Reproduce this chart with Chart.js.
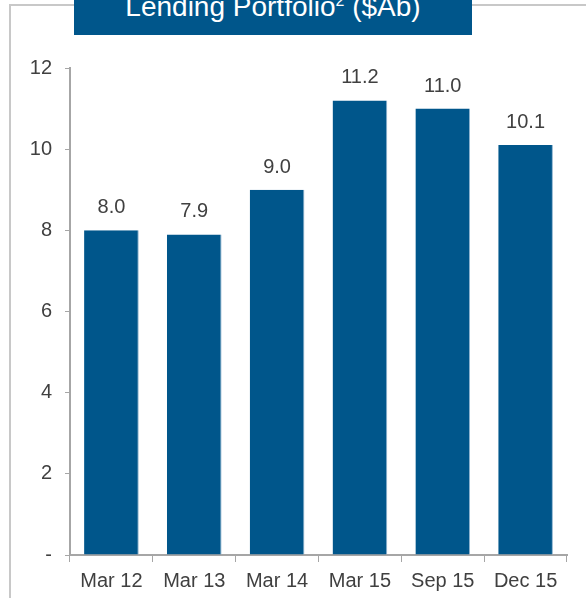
<!DOCTYPE html>
<html>
<head>
<meta charset="utf-8">
<script src="https://cdn.jsdelivr.net/npm/chart.js@4"></script>
<style>
  html, body { margin: 0; padding: 0; background: #fff; }
  #wrap { position: relative; width: 586px; height: 598px; overflow: hidden; }
  #frame { position: absolute; left: 9px; top: 4px; width: 600px; height: 620px;
           border-left: 2px solid #c8c8c8; border-top: 2px solid #c8c8c8; }
  #title { position: absolute; left: 74px; top: 0; width: 398px; height: 35px;
           background: #00568b; color: #fff; overflow: hidden;
           font-family: "Liberation Sans", Arial, sans-serif; font-size: 28px;
           text-align: center; line-height: 28px; }
  #title span.t { position: relative; top: -7px; }
  #title sup { font-size: 16px; vertical-align: 10px; line-height: 0; }
  canvas { position: absolute; left: 0; top: 0; }
</style>
</head>
<body>
<div id="wrap">
  <div id="frame"></div>
  <canvas id="chart" width="586" height="598"></canvas>
  <div id="title"><span class="t">Lending Portfolio<sup>2</sup> ($Ab)</span></div>
</div>
<script>
const categories = ['Mar 12', 'Mar 13', 'Mar 14', 'Mar 15', 'Sep 15', 'Dec 15'];
const portfolio = [8.0, 7.9, 9.0, 11.2, 11.0, 10.1];
const yTicks = [0, 2, 4, 6, 8, 10, 12];

const barColor = '#00568b';
const textColor = '#404040';
const axisColor = '#a6a6a6';
const fontFamily = '"Liberation Sans", Arial, sans-serif';

// value labels over each bar
const valueLabels = {
    id: 'valueLabels',
    afterDatasetsDraw(chart){
        const ctx = chart.ctx;
        const meta = chart.getDatasetMeta(0);
        ctx.save();
        ctx.font = '20px ' + fontFamily;
        ctx.fillStyle = textColor;
        ctx.textAlign = 'center';
        ctx.textBaseline = 'alphabetic';
        meta.data.forEach((bar, i) => {
            ctx.fillText(portfolio[i].toFixed(1), bar.x, bar.y - 17);
        });
        ctx.restore();
    }
};

new Chart(document.getElementById('chart').getContext('2d'), {
    type: 'bar',
    data: {
        labels: categories,
        datasets: [{
            data: portfolio,
            backgroundColor: barColor,
            borderColor: '#8fb3cf',
            borderWidth: {left: 0, right: 1, top: 0, bottom: 0},
            categoryPercentage: 0.66,
            barPercentage: 1.0
        }]
    },
    options: {
        responsive: false,
        animation: false,
        layout: { padding: { left: 0, right: 19, top: 68, bottom: 0 } },
        plugins: {
            legend: { display: false },
            tooltip: { enabled: false }
        },
        scales: {
            x: {
                grid: {
                    offset: true,
                    drawOnChartArea: false,
                    drawTicks: true,
                    tickLength: 7,
                    color: axisColor
                },
                border: { color: axisColor, width: 2 },
                ticks: {
                    color: textColor,
                    font: { family: fontFamily, size: 20 },
                    padding: 7,
                    maxRotation: 0
                },
                afterFit(scale){ scale.height = 43; }
            },
            y: {
                min: 0,
                max: 12,
                afterBuildTicks(scale){ scale.ticks = yTicks.map(v => ({value: v})); },
                grid: {
                    drawOnChartArea: false,
                    drawTicks: true,
                    tickLength: 5,
                    color: axisColor
                },
                border: { color: axisColor, width: 2 },
                ticks: {
                    color: textColor,
                    font: { family: fontFamily, size: 20 },
                    padding: 13,
                    callback: v => v === 0 ? '-' : v
                },
                afterFit(scale){ scale.width = 70; }
            }
        }
    },
    plugins: [valueLabels]
});
</script>
</body>
</html>
